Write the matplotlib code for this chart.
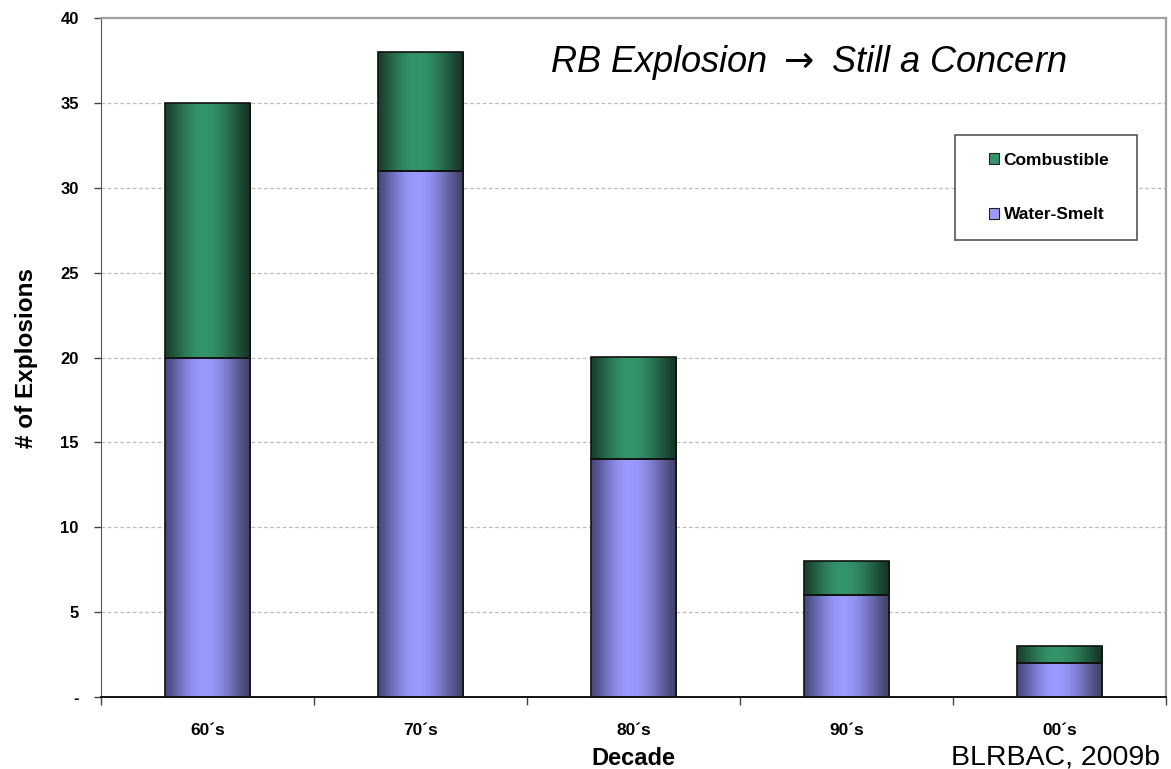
import numpy as np
import matplotlib
matplotlib.use("Agg")
import matplotlib.pyplot as plt
from matplotlib.patches import Rectangle, Patch
from matplotlib.colors import to_rgb

plt.rcParams['font.family'] = ['Liberation Sans', 'DejaVu Sans']

decades = ["60´s", "70´s", "80´s", "90´s", "00´s"]
water_smelt = [20, 31, 14, 6, 2]
combustible = [15, 7, 6, 2, 1]
yticks = [0, 5, 10, 15, 20, 25, 30, 35, 40]
ytick_labels = ["-", "5", "10", "15", "20", "25", "30", "35", "40"]

# shading colours: left edge, centre, right edge
blue_shade = ["#48487e", "#9a9aff", "#404066"]
green_shade = ["#19402d", "#34956a", "#153424"]


def shade_strip(cols, n=200, peak=0.45):
    left, mid, right = [np.array(to_rgb(c)) for c in cols]
    t = np.linspace(0, 1, n)
    out = np.zeros((1, n, 3))
    for i, v in enumerate(t):
        if v < peak:
            a = np.sin(v / peak * np.pi / 2) ** 1.3
            out[0, i] = left + (mid - left) * a
        else:
            a = np.sin((1 - v) / (1 - peak) * np.pi / 2) ** 1.3
            out[0, i] = right + (mid - right) * a
    return out


def shaded_bars(ax, x, heights, bottoms, width, cols):
    img = shade_strip(cols)
    bars = ax.bar(x, heights, width, bottom=bottoms, facecolor='none',
                  edgecolor='#111111', linewidth=1.2, zorder=3)
    for b in bars:
        x0, y0 = b.get_x(), b.get_y()
        im = ax.imshow(img, extent=[x0, x0 + b.get_width(), y0, y0 + b.get_height()],
                       aspect='auto', interpolation='bilinear', zorder=2)
        im.set_clip_path(b)
    return bars


fig = plt.figure(figsize=(11.71, 7.69), dpi=100)
ax = fig.add_axes([101 / 1171, 72 / 769, 1065 / 1171, 679 / 769])

x = np.arange(len(decades))
w = 0.4
shaded_bars(ax, x, water_smelt, 0, w, blue_shade)
shaded_bars(ax, x, combustible, water_smelt, w, green_shade)

ax.set_xlim(-0.5, len(decades) - 0.5)
ax.set_ylim(0, 40)

# dashed grid
for y in yticks[1:-1]:
    ax.axhline(y, color='#bdbdbd', lw=0.9, ls=(0, (3, 2)), zorder=1)

ax.set_yticks(yticks)
ax.set_yticklabels(ytick_labels, fontsize=12, fontweight='bold')
ax.tick_params(axis='y', direction='out', length=5, width=1, pad=11, color='#444444')

ax.set_xticks(x)
ax.set_xticklabels(decades, fontsize=12.5, fontweight='bold')
ax.set_xticks(np.arange(len(decades) + 1) - 0.5, minor=True)
ax.tick_params(axis='x', which='major', length=0, pad=19)
ax.tick_params(axis='x', which='minor', direction='out', length=6, width=1, color='#444444')

ax.spines['left'].set_color('#555555')
ax.spines['bottom'].set_color('black')
ax.spines['bottom'].set_linewidth(1.3)
for s in ['top', 'right']:
    ax.spines[s].set_color('#a0a0a0')
    ax.spines[s].set_linewidth(1.6)

ax.set_xlabel("Decade", fontsize=17, fontweight='bold', labelpad=6)
ax.set_ylabel("# of Explosions", fontsize=17.5, fontweight='bold', labelpad=16)

ax.text(0.664, 0.935, r"RB Explosion $\rightarrow$ Still a Concern", transform=ax.transAxes,
        fontsize=26, style='italic', ha='center', va='center', zorder=5)

# legend box
bx0, by0 = (955 - 101) / 1065, (697 - 240) / 679
bw, bh = (1137 - 955) / 1065, (240 - 135) / 679
ax.add_patch(Rectangle((bx0, by0), bw, bh, transform=ax.transAxes, facecolor='white',
                       edgecolor='#555555', lw=1.2, zorder=6))
handles = [Patch(facecolor=green_shade[1], edgecolor='#222222', lw=0.8),
           Patch(facecolor=blue_shade[1], edgecolor='#222222', lw=0.8)]
leg = ax.legend(handles, ["Combustible", "Water-Smelt"], loc='center',
                bbox_to_anchor=(bx0 + bw / 2 + 0.003, by0 + bh / 2), bbox_transform=ax.transAxes,
                frameon=False, prop={'weight': 'bold', 'size': 12.5},
                handlelength=0.6, handleheight=0.6, handletextpad=0.25, labelspacing=2.3)
leg.set_zorder(7)

fig.text(1160 / 1171, 1 - 764 / 769, "BLRBAC, 2009b", fontsize=20.5, ha='right', va='baseline')

fig.savefig("out.png", dpi=100)
